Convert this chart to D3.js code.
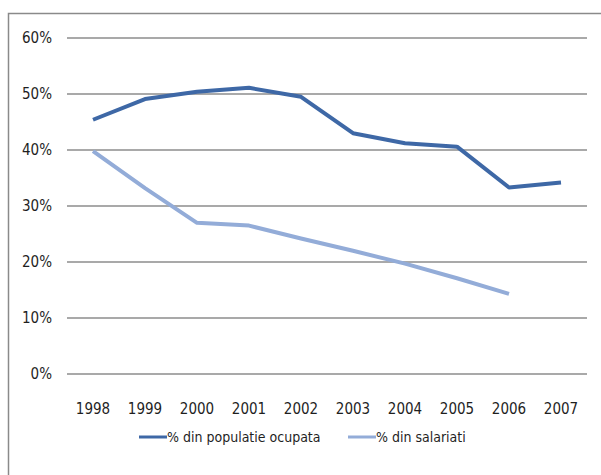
<!DOCTYPE html>
<html>
<head>
<meta charset="utf-8">
<title>Populatie ocupata</title>
<script src="https://d3js.org/d3.v7.min.js"></script>
<style>
  body { margin: 0; background: #fff; }
  text { font-family: "Liberation Sans Narrow", "DejaVu Sans Condensed", "Open Sans", sans-serif; fill: #1f1f1f; }
</style>
</head>
<body>
<script>
var years = ["1998", "1999", "2000", "2001", "2002", "2003", "2004", "2005", "2006", "2007"];
var ocupata = [45.4, 49.1, 50.4, 51.1, 49.5, 43.0, 41.2, 40.6, 33.3, 34.2];
var salariati = [39.8, 33.2, 27.0, 26.5, 24.2, 22.0, 19.7, 17.1, 14.3, null];
var yTicks = [0, 10, 20, 30, 40, 50, 60];
var seriesNames = ["% din populatie ocupata", "% din salariati"];
var colors = ["#3e68a6", "#93acd8"];

var width = 601, height = 475;
var margin = {top: 38, right: 14, bottom: 101, left: 67};

var svg = d3.select("body").append("svg")
    .attr("width", width)
    .attr("height", height);

// frame
svg.append("path")
    .attr("d", "M8.5,475 V13.5 H601")
    .attr("fill", "none")
    .attr("stroke", "#8a8a8a")
    .attr("stroke-width", 1.5);

var g = svg.append("g")
    .attr("transform", "translate(" + margin.left + "," + margin.top + ")");

var w = width - margin.left - margin.right,
    h = height - margin.top - margin.bottom;

var x = d3.scaleBand().domain(years).range([0, w]);
var y = d3.scaleLinear().domain([0, 60]).range([h, 0]);

// grid
g.selectAll(".grid")
    .data(yTicks)
    .enter().append("line")
    .attr("x1", 0).attr("x2", w)
    .attr("y1", function(d) { return y(d); })
    .attr("y2", function(d) { return y(d); })
    .attr("stroke", "#8c8c8c")
    .attr("stroke-width", 1.5);

var yAxis = g.append("g")
    .call(d3.axisLeft(y).tickValues(yTicks).tickFormat(function(d) { return d + "%"; }).tickSize(0).tickPadding(15));
yAxis.select(".domain").remove();
yAxis.selectAll("text").style("font-size", "15px").attr("fill", "#1f1f1f");

var xAxis = g.append("g")
    .attr("transform", "translate(0," + h + ")")
    .call(d3.axisBottom(x).tickSize(0).tickPadding(29));
xAxis.select(".domain").remove();
xAxis.selectAll("text").style("font-size", "15px").attr("fill", "#1f1f1f");

var line = d3.line()
    .defined(function(d) { return d != null; })
    .x(function(d, i) { return x(years[i]) + x.bandwidth() / 2; })
    .y(function(d) { return y(d); });

[ocupata, salariati].forEach(function(s, i) {
  g.append("path")
      .datum(s)
      .attr("fill", "none")
      .attr("stroke", colors[i])
      .attr("stroke-width", 4)
      .attr("stroke-linejoin", "round")
      .attr("d", line);
});

// legend
var legendX = [139, 348];
var legend = svg.selectAll(".legend")
    .data(seriesNames)
    .enter().append("g")
    .attr("transform", function(d, i) { return "translate(" + legendX[i] + ",437)"; });
legend.append("line")
    .attr("x1", 0).attr("x2", 28)
    .attr("stroke", function(d, i) { return colors[i]; })
    .attr("stroke-width", 3);
legend.append("text")
    .attr("x", 28)
    .attr("dy", "0.35em")
    .style("font-size", "14px")
    .text(function(d) { return d; });
</script>
</body>
</html>
